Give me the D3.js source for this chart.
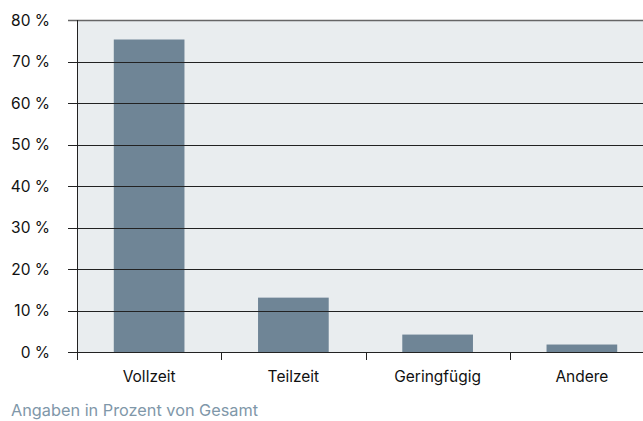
<!DOCTYPE html>
<html>
<head>
<meta charset="utf-8">
<script src="https://cdn.jsdelivr.net/npm/d3@7"></script>
<style>
  body { margin: 0; background: #fff; }
  svg { display: block; font-family: Inter, Lato, sans-serif; }
</style>
</head>
<body>
<svg width="643" height="421"></svg>
<script>
const categories = ["Vollzeit", "Teilzeit", "Geringfügig", "Andere"];
const values = [75.3, 13.1, 4.2, 1.8];
const yTicks = [0, 10, 20, 30, 40, 50, 60, 70, 80];

const svg = d3.select("svg");
const plotLeft = 77, plotRight = 654, plotTop = 20, plotBottom = 352;

const x = d3.scaleBand().domain(categories).range([plotLeft, plotRight]);
const y = d3.scaleLinear().domain([0, 80]).range([plotBottom, plotTop]);

// plot background
svg.append("rect")
    .attr("x", plotLeft).attr("y", plotTop)
    .attr("width", 643 - plotLeft).attr("height", plotBottom - plotTop)
    .attr("fill", "#e9edef");

// bars
const barW = x.bandwidth() * 0.49;
svg.append("g")
    .selectAll("rect")
    .data(values)
    .join("rect")
    .attr("x", (d, i) => x(categories[i]) + (x.bandwidth() - barW) / 2)
    .attr("y", d => y(d))
    .attr("width", barW)
    .attr("height", d => y(0) - y(d))
    .attr("fill", "#6f8596");

// grid lines + y ticks
svg.append("g")
    .selectAll("line")
    .data(yTicks)
    .join("line")
    .attr("x1", 68).attr("x2", 643)
    .attr("y1", d => Math.round(y(d)) + 0.5)
    .attr("y2", d => Math.round(y(d)) + 0.5)
    .attr("stroke", d => d === 80 ? "#666" : "#222")
    .attr("stroke-width", d => d === 80 ? 1.5 : 1);

svg.append("g")
    .selectAll("text")
    .data(yTicks)
    .join("text")
    .attr("x", 50)
    .attr("y", d => y(d))
    .attr("dy", "0.36em")
    .attr("text-anchor", "end")
    .attr("font-size", 15.5)
    .attr("fill", "#111")
    .text(d => d + " %");

// y axis line
svg.append("line")
    .attr("x1", plotLeft + 0.5).attr("x2", plotLeft + 0.5)
    .attr("y1", plotTop).attr("y2", plotBottom + 8)
    .attr("stroke", "#222");

// x ticks at band boundaries
svg.append("g")
    .selectAll("line")
    .data(categories.slice(1))
    .join("line")
    .attr("x1", d => Math.round(x(d)) + 0.5)
    .attr("x2", d => Math.round(x(d)) + 0.5)
    .attr("y1", plotBottom).attr("y2", plotBottom + 8)
    .attr("stroke", "#222");

svg.append("g")
    .selectAll("text")
    .data(categories)
    .join("text")
    .attr("x", d => x(d) + x.bandwidth() / 2)
    .attr("y", 381.5)
    .attr("text-anchor", "middle")
    .attr("font-size", 15.5)
    .attr("fill", "#111")
    .text(d => d);

svg.append("text")
    .attr("x", 11)
    .attr("y", 416)
    .attr("font-size", 16.3)
    .attr("fill", "#7f97a9")
    .text("Angaben in Prozent von Gesamt");
</script>
</body>
</html>
